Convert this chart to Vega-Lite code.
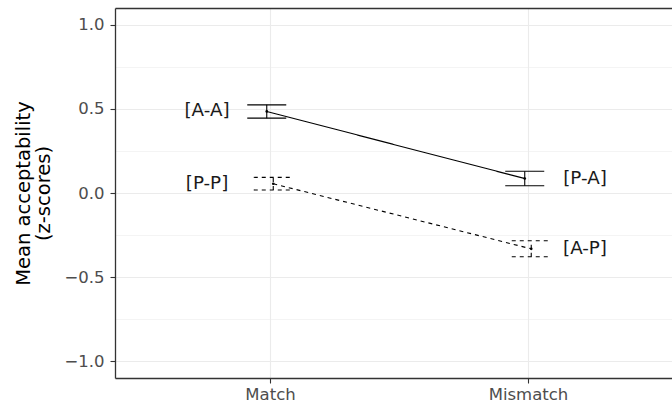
{
  "$schema": "https://vega.github.io/schema/vega-lite/v6.json",
  "autosize": {"type": "none"},
  "padding": {"left": 115, "top": 8, "right": 0, "bottom": 30},
  "width": 557,
  "height": 370,
  "background": "white",
  "config": {
    "view": {"stroke": null},
    "font": "DejaVu Sans",
    "axis": {
      "gridColor": "#ebebeb", "gridWidth": 1.1,
      "tickColor": "#333333", "tickWidth": 1.1, "tickSize": 5,
      "domainColor": "#333333", "domainWidth": 1.3,
      "labelColor": "#4d4d4d", "labelFontSize": 16.5, "labelFont": "DejaVu Sans"
    }
  },
  "data": {
    "values": [
      {"match": "Match", "target": "A", "label": "[A-A]", "mean": 0.485, "lo": 0.445, "hi": 0.524},
      {"match": "Match", "target": "P", "label": "[P-P]", "mean": 0.055, "lo": 0.018, "hi": 0.093},
      {"match": "Mismatch", "target": "A", "label": "[P-A]", "mean": 0.086, "lo": 0.043, "hi": 0.129},
      {"match": "Mismatch", "target": "P", "label": "[A-P]", "mean": -0.332, "lo": -0.379, "hi": -0.284}
    ]
  },
  "resolve": {"axis": {"x": "independent", "y": "independent"}},
  "layer": [
    {
      "mark": {"type": "rule", "color": "black", "strokeWidth": 1.1},
      "encoding": {
        "x": {
          "field": "match", "type": "nominal",
          "scale": {"type": "point", "padding": 0.5795, "align": 0.5184, "domain": ["Match", "Mismatch"]},
          "axis": {"title": null, "grid": true, "labelAngle": 0, "labelPadding": 3}
        },
        "xOffset": {"field": "target", "type": "nominal", "scale": {"type": "point", "domain": ["A", "P"], "range": [-6.5, 6.5]}},
        "y": {
          "field": "lo", "type": "quantitative",
          "scale": {"domain": [-1.1, 1.1], "nice": false, "zero": false},
          "axis": {
            "title": ["Mean acceptability", "(z-scores)"],
            "titleFontSize": 19.5, "titleFontWeight": "normal", "titleColor": "black", "titleFont": "DejaVu Sans",
            "titlePadding": 10, "titleLineHeight": 20,
            "values": [-1, -0.5, 0, 0.5, 1],
            "format": ".1f",
            "labelPadding": 6
          }
        },
        "y2": {"field": "hi"},
        "strokeDash": {"field": "target", "type": "nominal", "scale": {"domain": ["A", "P"], "range": [[1, 0], [4, 4]]}, "legend": null}
      }
    },
    {
      "mark": {"type": "line", "color": "black", "strokeWidth": 1.1},
      "encoding": {
        "x": {
          "field": "match", "type": "nominal",
          "axis": {"orient": "top", "title": null, "grid": false, "labels": false, "ticks": false, "domain": true}
        },
        "xOffset": {"field": "target", "type": "nominal", "scale": {"type": "point", "domain": ["A", "P"], "range": [-6.5, 6.5]}},
        "y": {
          "field": "mean", "type": "quantitative",
          "axis": {"orient": "right", "title": null, "values": [-0.75, -0.25, 0.25, 0.75], "grid": true, "gridWidth": 0.55, "labels": false, "ticks": false, "domain": false}
        },
        "detail": {"field": "target"},
        "strokeDash": {"field": "target", "type": "nominal", "legend": null}
      }
    },
    {
      "mark": {"type": "point", "shape": "M-1,0L1,0", "size": 1521, "filled": false, "color": "black", "strokeWidth": 1.1, "opacity": 1},
      "encoding": {
        "x": {"field": "match", "type": "nominal", "axis": null},
        "xOffset": {"field": "target", "type": "nominal", "scale": {"type": "point", "domain": ["A", "P"], "range": [-6.5, 6.5]}},
        "y": {"field": "lo", "type": "quantitative", "axis": null},
        "strokeDash": {"field": "target", "type": "nominal", "legend": null}
      }
    },
    {
      "mark": {"type": "point", "shape": "M-1,0L1,0", "size": 1521, "filled": false, "color": "black", "strokeWidth": 1.1, "opacity": 1},
      "encoding": {
        "x": {"field": "match", "type": "nominal", "axis": null},
        "xOffset": {"field": "target", "type": "nominal", "scale": {"type": "point", "domain": ["A", "P"], "range": [-6.5, 6.5]}},
        "y": {"field": "hi", "type": "quantitative", "axis": null},
        "strokeDash": {"field": "target", "type": "nominal", "legend": null}
      }
    },
    {
      "mark": {"type": "circle", "color": "black", "size": 7, "opacity": 1},
      "encoding": {
        "x": {"field": "match", "type": "nominal", "axis": null},
        "xOffset": {"field": "target", "type": "nominal", "scale": {"type": "point", "domain": ["A", "P"], "range": [-6.5, 6.5]}},
        "y": {"field": "mean", "type": "quantitative", "axis": null}
      }
    },
    {
      "transform": [{"filter": "datum.match == 'Match'"}],
      "mark": {"type": "text", "dx": -63, "align": "center", "baseline": "middle", "fontSize": 18.3, "font": "DejaVu Sans", "color": "#1a1a1a"},
      "encoding": {
        "x": {"field": "match", "type": "nominal", "axis": null},
        "y": {"field": "mean", "type": "quantitative", "axis": null},
        "text": {"field": "label"}
      }
    },
    {
      "transform": [{"filter": "datum.match == 'Mismatch'"}],
      "mark": {"type": "text", "dx": 57, "align": "center", "baseline": "middle", "fontSize": 18.3, "font": "DejaVu Sans", "color": "#1a1a1a"},
      "encoding": {
        "x": {"field": "match", "type": "nominal", "axis": null},
        "y": {"field": "mean", "type": "quantitative", "axis": null},
        "text": {"field": "label"}
      }
    }
  ]
}
